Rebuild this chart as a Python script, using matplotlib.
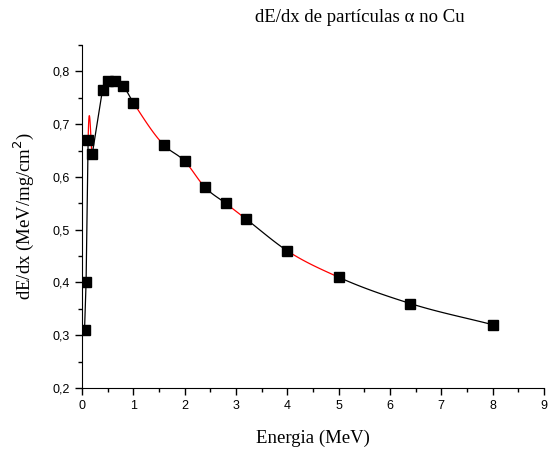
import numpy as np
import matplotlib
matplotlib.use('Agg')
import matplotlib.pyplot as plt
from matplotlib.ticker import MultipleLocator, FuncFormatter

# dados
energia = [0.05, 0.08, 0.12, 0.2, 0.4, 0.5, 0.64, 0.8, 1.0, 1.6, 2.0, 2.4, 2.8, 3.2, 4.0, 5.0, 6.4, 8.0]
dedx = [0.31, 0.40, 0.67, 0.643, 0.765, 0.781, 0.781, 0.772, 0.741, 0.66, 0.63, 0.58, 0.55, 0.52, 0.46, 0.41, 0.36, 0.32]


def curva_suave(x, y):
    # hermite cubica, tangente pela derivada de 3 pontos, so para desenhar
    x = np.asarray(x, float)
    y = np.asarray(y, float)
    n = len(x)
    d = np.diff(y) / np.diff(x)
    hh = np.diff(x)
    m = np.zeros(n)
    m[0] = d[0]
    m[-1] = d[-1]
    for i in range(1, n - 1):
        m[i] = (hh[i] * d[i - 1] + hh[i - 1] * d[i]) / (hh[i - 1] + hh[i])
    segs = []
    for i in range(n - 1):
        h = hh[i]
        s = np.linspace(0, 1, 40)
        h00 = 2 * s**3 - 3 * s**2 + 1
        h10 = s**3 - 2 * s**2 + s
        h01 = -2 * s**3 + 3 * s**2
        h11 = s**3 - s**2
        yy = h00 * y[i] + h10 * h * m[i] + h01 * y[i + 1] + h11 * h * m[i + 1]
        segs.append((x[i] + s * h, yy))
    return segs


fig = plt.figure(figsize=(5.55, 4.5), dpi=100)
ax = fig.add_axes([0.1477, 0.1378, 0.8323, 0.7622])

cores = ['black', 'black', 'red', 'black', 'red', 'black', 'red', 'black', 'red',
         'black', 'red', 'black', 'red', 'black', 'red', 'black', 'black']
retos = [0, 1, 3]
segs = curva_suave(energia, dedx)
for i, (sx, sy) in enumerate(segs):
    if i in retos:
        sx = [energia[i], energia[i + 1]]
        sy = [dedx[i], dedx[i + 1]]
    ax.plot(sx, sy, color=cores[i], lw=0.9, zorder=2)

ax.plot(energia, dedx, ls='none', marker='s', ms=6.5, color='black', zorder=3)

ax.set_xlim(0, 9)
ax.set_ylim(0.2, 0.85)
ax.spines['top'].set_visible(False)
ax.spines['right'].set_visible(False)
ax.xaxis.set_major_locator(MultipleLocator(1))
ax.xaxis.set_minor_locator(MultipleLocator(0.5))
ax.yaxis.set_major_locator(MultipleLocator(0.1))
ax.yaxis.set_minor_locator(MultipleLocator(0.05))
ax.yaxis.set_major_formatter(FuncFormatter(lambda v, p: ('%.1f' % v).replace('.', ',')))
ax.tick_params(which='major', direction='out', length=5, width=1, labelsize=9)
ax.tick_params(which='minor', direction='out', length=3, width=1)
for t in ax.get_xticklabels() + ax.get_yticklabels():
    t.set_fontfamily('Liberation Sans')

plt.rcParams['mathtext.fontset'] = 'custom'
plt.rcParams['mathtext.rm'] = 'Liberation Serif'
ax.set_xlabel('Energia (MeV)', fontfamily='Liberation Serif', fontsize=13.5, labelpad=13)
ax.set_ylabel('dE/dx (MeV/mg/cm$^2$)', fontfamily='Liberation Serif', fontsize=13.5, labelpad=12)
fig.text(0.649, 0.96, 'dE/dx de partículas α no Cu', ha='center', va='center',
         fontfamily='Liberation Serif', fontsize=13.5)

plt.savefig('out.png', dpi=100)
